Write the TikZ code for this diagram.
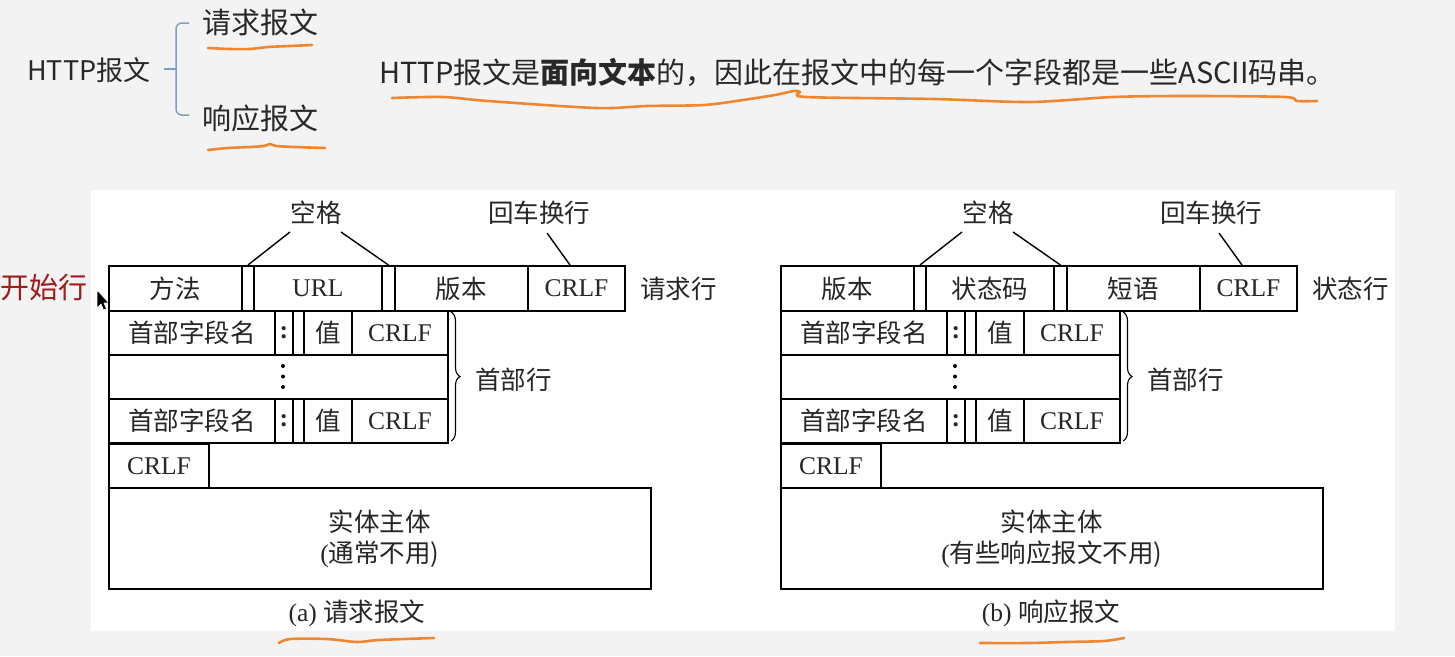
\documentclass[tikz,border=0pt]{standalone}
\usepackage{fontspec}
\setmainfont{Liberation Serif}
\newfontfamily\zh{Noto Sans CJK SC}
\usetikzlibrary{decorations.pathreplacing}
\definecolor{bg}{RGB}{243,243,243}
\definecolor{ink}{RGB}{38,38,38}
\definecolor{topink}{RGB}{40,40,40}
\definecolor{orng}{RGB}{240,134,48}
\definecolor{brk}{RGB}{125,158,200}
\definecolor{dred}{RGB}{158,28,28}
\newcommand\dgmfont{\fontsize{25.5}{31}\selectfont}
\newcommand\topfont{\fontsize{29}{34}\selectfont\zh}
\tikzset{
  cell/.style={draw=black, line width=1.9pt, anchor=north west, inner sep=0pt,
    font=\dgmfont, text=ink, minimum height=44pt, align=center},
  lbl/.style={inner sep=0pt, font=\dgmfont, text=ink},
  lead/.style={draw=black, line width=1.4pt},
  hbrace/.style={draw=black, line width=1.1pt, decorate,
    decoration={brace, amplitude=9pt}},
  dotn/.style={circle, fill=black, inner sep=0pt, minimum size=4pt},
  topt/.style={inner sep=0pt, anchor=west, text=topink, font=\topfont},
  uline/.style={draw=orng, line width=2.6pt, line cap=round, line join=round},
  brkline/.style={draw=brk, line width=1.5pt, rounded corners=6pt}
}
% one header row: #1 prefix, #2 top y
\newcommand\hdrow[2]{%
  \node[cell,minimum width=166pt] (#1n) at (108,#2) {\zh 首部字段名};
  \node[cell,minimum width=18pt] (#1c) at (274,#2) {\bfseries :};
  \node[cell,minimum width=11pt] (#1s) at (292,#2) {};
  \node[cell,minimum width=48pt] (#1v) at (303,#2) {\zh 值};
  \node[cell,minimum width=96pt] (#1f) at (351,#2) {CRLF};
}
% whole message: #1-#3 start line cells, #4 line label, #5 entity 2nd line, #6 caption, #7 caption x
\newcommand\msgdia[7]{%
  \node[cell,minimum width=133pt,minimum height=45pt] (c1) at (108,265) {#1};
  \node[cell,minimum width=12pt,minimum height=45pt] (s1) at (241,265) {};
  \node[cell,minimum width=128pt,minimum height=45pt] (c2) at (253,265) {#2};
  \node[cell,minimum width=13pt,minimum height=45pt] (s2) at (381,265) {};
  \node[cell,minimum width=133pt,minimum height=45pt] (c3) at (394,265) {#3};
  \node[cell,minimum width=97pt,minimum height=45pt] (c4) at (527,265) {CRLF};
  \node[lbl,anchor=west] (rowlbl) at ([xshift=14pt]c4.east) {\zh #4};
  \node[lbl] (kg) at (316,213) {\zh 空格};
  \node[lbl] (hc) at (539,213) {\zh 回车换行};
  \coordinate (kgl) at (290,232);
  \coordinate (kgr) at (341,232);
  \coordinate (hcl) at (547,233);
  \coordinate (hcr) at (570,265);
  \draw[lead] (kgl) -- (s1.north);
  \draw[lead] (kgr) -- (s2.north);
  \draw[lead] (hcl) -- (hcr);
  \hdrow{ha}{310}
  \node[cell,minimum width=339pt] (dr) at (108,354) {};
  \node[dotn] (d1) at (283,366) {};
  \node[dotn] (d2) at (283,376.5) {};
  \node[dotn] (d3) at (283,387) {};
  \hdrow{hb}{398}
  \node[cell,minimum width=100pt] (cr) at (108,443) {CRLF};
  \node[cell,minimum width=542pt,minimum height=101pt] (ent) at (108,487)
     {\zh 实体主体\\(\zh #5)};
  \coordinate (bt) at (451,312);
  \coordinate (bb) at (451,441);
  \draw[hbrace] (bt) -- (bb);
  \node[lbl,anchor=west] (hdlbl) at (475,380) {\zh 首部行};
  \node[lbl] (cap) at (#7,613) {#6};
}
\begin{document}
\begin{tikzpicture}[x=1pt,y=-1pt]
\useasboundingbox (0,0) rectangle (1455,656);
\fill[bg] (0,0) rectangle (1455,656);
\fill[white] (91,190) rectangle (1395,631);

% ---- top part ----
\node[topt,font=\fontsize{27}{32}\selectfont\zh] (http) at (27,70) {HTTP报文};
\node[topt] (req) at (202,22) {请求报文};
\node[topt] (resp) at (202,118) {响应报文};
\coordinate (bm) at (164,69);
\coordinate (bc) at (176,69);
\coordinate (bu) at (189,23);
\coordinate (bd) at (189,115);
\draw[brkline] (bu) -- (176,23) -- (176,115) -- (bd);
\draw[brk, line width=1.5pt] (bm) -- (bc);
\node[topt] (sent) at (379,72)
  {HTTP报文是{\bfseries 面向文本}的，因此在报文中的每一个字段都是一些ASCII码串。};

% underlines
\draw[uline] plot[smooth] coordinates {(208,48) (230,49) (250,49) (268,47) (290,46) (312,45)};
\draw[uline] plot[smooth] coordinates {(208,150) (228,148) (250,147) (264,146) (270,144) (276,146) (295,147) (325,148)};
\draw[uline] plot[smooth] coordinates {(392,98) (443,97) (488,101) (596,108) (647,106) (704,105) (743,100) (775,95) (794,91) (800,92) (806,97) (934,99) (1030,102) (1113,97) (1189,96) (1285,97) (1297,101) (1317,101)};

% ---- left label + cursor ----
\node[topt,text=dred] (start) at (0,288) {开始行};
\fill[black, draw=white, line width=0.6pt] (97,290) -- (97,308) -- (101,304) -- (103.5,310) -- (106.5,309) -- (104,303) -- (109,303) -- cycle;

% ---- diagrams ----
\begin{scope}[name prefix=a-]
\msgdia{\zh 方法}{URL}{\zh 版本}{请求行}{通常不用}{(a) \zh 请求报文}{357}
\end{scope}
\begin{scope}[xshift=672pt, name prefix=b-]
\msgdia{\zh 版本}{\zh 状态码}{\zh 短语}{状态行}{有些响应报文不用}{(b) \zh 响应报文}{379}
\end{scope}

\draw[uline] plot[smooth] coordinates {(279,643) (290,639) (327,639) (357,642) (379,640) (434,638)};
\draw[uline] plot[smooth] coordinates {(980,643) (1028,643) (1066,642) (1104,641) (1124,638)};
\end{tikzpicture}
\end{document}
